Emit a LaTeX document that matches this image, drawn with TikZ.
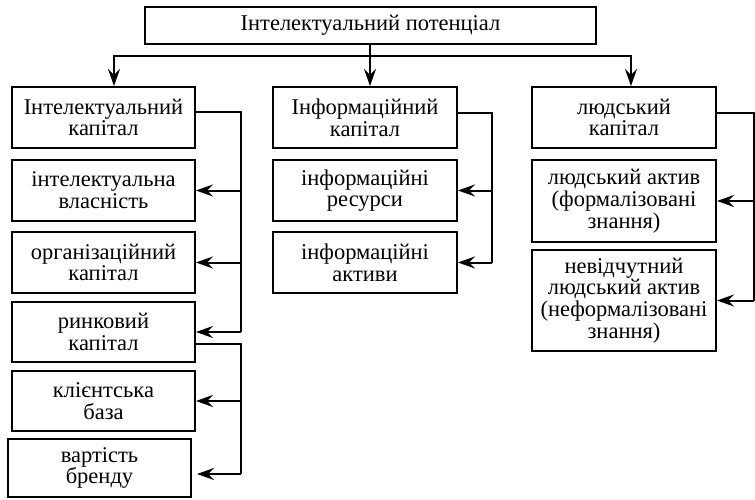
\documentclass[tikz,border=0pt]{standalone}
\usepackage{fontspec}
\setmainfont{Liberation Serif}
\usetikzlibrary{arrows.meta}
\begin{document}
\begin{tikzpicture}[x=1pt,y=-1pt]
\tikzset{
  box/.style={draw,line width=2pt,align=center,inner sep=0pt,font=\fontsize{22.5}{21.7}\selectfont},
  ln/.style={line width=2pt},
  arr/.style={line width=2pt,-{Stealth[length=17pt,width=12pt,inset=6pt]}}}
\useasboundingbox (0,0) rectangle (755,500);
\node[box,minimum width=451pt,minimum height=37pt] (top) at (370.5,25.5) {Інтелектуальний потенціал};
\node[box,minimum width=183pt,minimum height=61pt] (L1) at (103.5,117.5) {Інтелектуальний\\капітал};
\node[box,minimum width=183pt,minimum height=61pt] (L2) at (103.5,190.5) {інтелектуальна\\власність};
\node[box,minimum width=183pt,minimum height=61pt] (L3) at (103.5,262.5) {організаційний\\капітал};
\node[box,minimum width=183pt,minimum height=60pt] (L4) at (103.5,332) {ринковий\\капітал};
\node[box,minimum width=183pt,minimum height=60pt] (L5) at (103.5,401) {клієнтська\\база};
\node[box,minimum width=183pt,minimum height=58pt] (L6) at (99.5,468) {вартість\\бренду};
\node[box,minimum width=184pt,minimum height=61pt] (M1) at (365,117.5) {Інформаційний\\капітал};
\node[box,minimum width=184pt,minimum height=61pt] (M2) at (365,190.5) {інформаційні\\ресурси};
\node[box,minimum width=184pt,minimum height=61pt] (M3) at (365,262.5) {інформаційні\\активи};
\node[box,minimum width=184pt,minimum height=61pt] (R1) at (624,117.5) {людський\\капітал};
\node[box,minimum width=184pt,minimum height=82pt] (R2) at (624,201) {людський актив\\(формалізовані\\знання)};
\node[box,minimum width=184pt,minimum height=101pt] (R3) at (624,300.5) {невідчутний\\людський актив\\(неформалізовані\\знання)};
% top distribution
\coordinate (hj) at (370,56);
\draw[arr] (top.south -| hj) -- (hj |- M1.north);
\draw[arr] (hj) -| ([xshift=10.5pt]L1.north);
\draw[arr] (hj) -| ([xshift=7pt]R1.north);
% left group 1
\coordinate (v1) at (241,112);
\draw[ln] ([yshift=5.5pt]L1.east) -- (v1) -- (v1 |- L4.east);
\draw[arr] (v1 |- L2.east) -- (L2.east);
\draw[arr] (v1 |- L3.east) -- (L3.east);
\draw[arr] (v1 |- L4.east) -- (L4.east);
% left group 2
\coordinate (v2) at (241,344);
\coordinate (v2b) at (241,474);
\draw[ln] ([yshift=-12pt]L4.east) -- (v2) -- (v2b);
\draw[arr] (v2 |- L5.east) -- (L5.east);
\draw[arr] (v2b) -- ([xshift=5pt,yshift=-6pt]L6.east);
% middle
\coordinate (v3) at (492,113);
\draw[ln] ([yshift=4.5pt]M1.east) -- (v3) -- (v3 |- M3.east);
\draw[arr] (v3 |- M2.east) -- (M2.east);
\draw[arr] (v3 |- M3.east) -- (M3.east);
% right
\coordinate (v4) at (754,113);
\draw[ln] ([yshift=4.5pt]R1.east) -- (v4) -- (v4 |- R3.east);
\draw[arr] (v4 |- R2.east) -- (R2.east);
\draw[arr] (v4 |- R3.east) -- (R3.east);
\end{tikzpicture}
\end{document}
